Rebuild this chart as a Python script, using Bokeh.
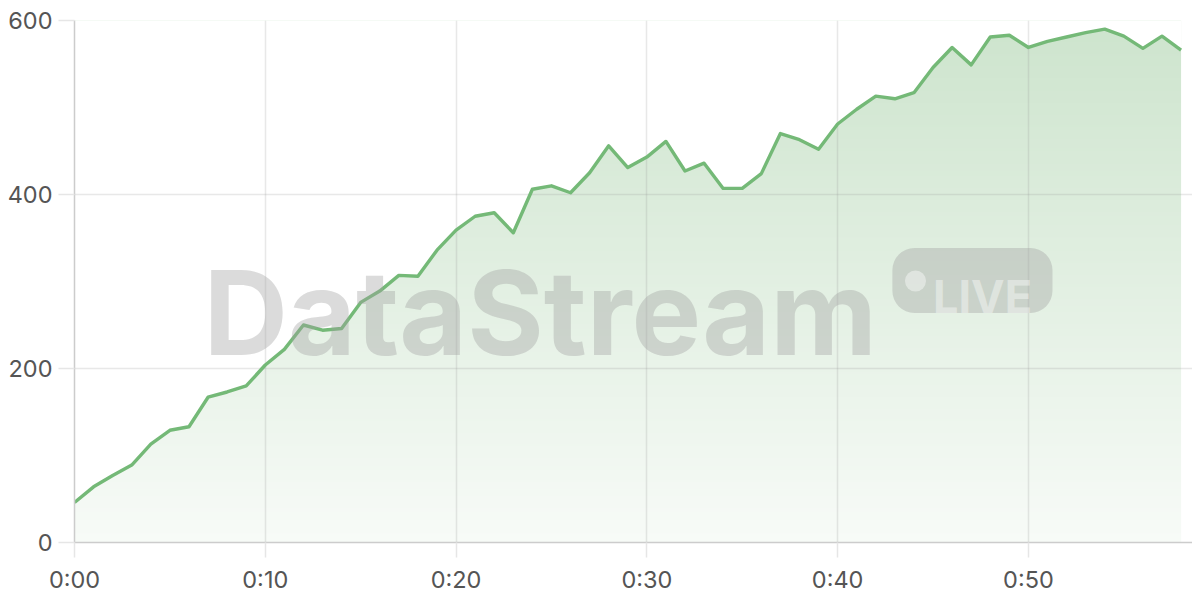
import numpy as np
from bokeh.plotting import figure
from bokeh.models import FixedTicker, Label, BoxAnnotation, Range1d
from bokeh.embed import file_html
from bokeh.resources import INLINE

# ---- data ----
minutes = list(range(0, 59))
values = [46, 64, 77, 89, 113, 129, 133, 167, 173, 180,
          204, 222, 250, 244, 246, 276, 289, 307, 306, 336,
          359, 375, 379, 356, 406, 410, 402, 425, 456, 431,
          443, 461, 427, 436, 407, 407, 424, 470, 463, 452,
          481, 498, 513, 510, 517, 546, 569, 549, 581, 583,
          569, 576, 581, 586, 590, 582, 568, 582, 566]
x_ticks = [0, 10, 20, 30, 40, 50]
x_tick_labels = ["0:00", "0:10", "0:20", "0:30", "0:40", "0:50"]
y_ticks = [0, 200, 400, 600]
y_max = 600

p = figure(width=1192, height=596, output_backend="svg", toolbar_location=None,
           x_range=Range1d(0, 58.6), y_range=Range1d(0, y_max),
           min_border_left=74, min_border_right=0, min_border_top=20, min_border_bottom=53)
p.outline_line_color = None
p.background_fill_color = "white"
p.border_fill_color = "white"

# vertical gradient fill: an opaque gradient image, then a white mask above the line
H = 300
t = (np.arange(H) + 0.5) / H          # 0 at bottom, 1 at top
a = 0.05 + 0.28 * t
green = np.array([103, 173, 103])
rgb = (255 * (1 - a)[:, None] + green[None, :] * a[:, None]).round().astype(np.uint8)
img = np.empty((H, 1), dtype=np.uint32)
view = img.view(dtype=np.uint8).reshape((H, 1, 4))
view[:, 0, 0] = rgb[:, 0]
view[:, 0, 1] = rgb[:, 1]
view[:, 0, 2] = rgb[:, 2]
view[:, 0, 3] = 255
p.image_rgba(image=[img], x=minutes[0], y=0, dw=minutes[-1] - minutes[0], dh=y_max, level="image")
p.varea(x=minutes, y1=values, y2=[y_max] * len(minutes), fill_color="white", level="image")

p.line(minutes, values, line_color="#74b977", line_width=3.4, line_join="round")

# axes
p.xaxis.ticker = FixedTicker(ticks=x_ticks)
p.xaxis.major_label_overrides = dict(zip(x_ticks, x_tick_labels))
p.yaxis.ticker = FixedTicker(ticks=y_ticks)
for ax in (p.xaxis, p.yaxis):
    ax.axis_line_color = "#cccccc"
    ax.axis_line_width = 1.5
    ax.major_tick_line_color = "#e6e6e6"
    ax.major_tick_line_width = 1.5
    ax.minor_tick_line_color = None
    ax.major_tick_in = 0
    ax.major_label_text_font = "Inter"
    ax.major_label_text_font_size = "23.5px"
    ax.major_label_text_color = "#555555"
p.xaxis.major_tick_out = 15
p.xaxis.major_label_standoff = 7
p.yaxis.major_tick_out = 16
p.yaxis.major_label_standoff = 6

p.grid.grid_line_color = "#969696"
p.grid.grid_line_alpha = 0.22
p.grid.grid_line_width = 1.5

# watermark
p.add_layout(Label(x=6.76, y=264, text="DataStream", text_font="Inter", text_font_style="bold",
                   text_font_size="117px", text_color="#a0a0a0", text_alpha=0.38,
                   text_align="left", text_baseline="alphabetic"))
p.add_layout(BoxAnnotation(left=42.87, right=51.26, bottom=263.9, top=338.4,
                           fill_color="#a0a0a0", fill_alpha=0.38, line_color=None,
                           border_radius=22))
p.add_layout(Label(x=45.0, y=282.2, text="LIVE", text_font="Inter", text_font_style="bold",
                   text_font_size="45px", text_color="white", text_alpha=0.42,
                   text_align="left", text_baseline="alphabetic"))
p.scatter(x=[44.08], y=[300.6], size=21, fill_color="white", fill_alpha=0.42,
          line_color=None, level="overlay")

open("out.html", "w").write(file_html(p, INLINE))
